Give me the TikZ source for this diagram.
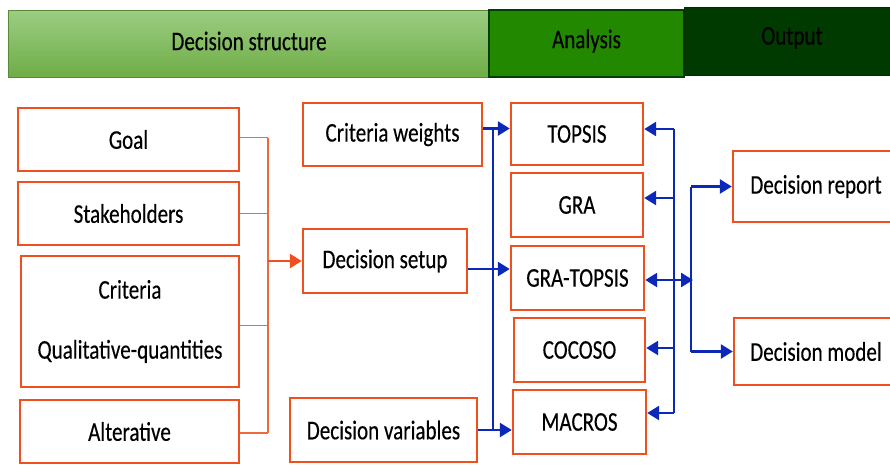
\documentclass[tikz,border=0pt]{standalone}
\usepackage{fontspec}
\setmainfont[FakeStretch=0.78,FakeBold=0.3]{Carlito}
\usetikzlibrary{arrows.meta}
\definecolor{boxorange}{RGB}{240,80,30}
\definecolor{brorange}{RGB}{240,105,60}
\definecolor{ablue}{RGB}{12,40,185}
\definecolor{lgtop}{RGB}{156,205,130}
\definecolor{lgbot}{RGB}{110,173,70}
\definecolor{anagreen}{RGB}{34,136,0}
\definecolor{outgreen}{RGB}{0,58,0}
\tikzset{
  txt/.style={font=\fontsize{27}{60}\selectfont, text=black},
  box/.style={txt, draw=boxorange, line width=2.4pt, fill=white, inner sep=0pt, align=center},
  bar/.style={txt, inner sep=0pt},
  bline/.style={draw=brorange, line width=1.2pt},
  oarr/.style={draw=boxorange, line width=2.6pt, -{Triangle[length=12pt,width=14pt]}},
  vline/.style={draw=ablue, line width=1.5pt},
  barr/.style={draw=ablue, line width=2.6pt, -{Triangle[length=12pt,width=14pt]}},
  dbarr/.style={draw=ablue, line width=2.6pt, {Triangle[length=12pt,width=14pt]}-{Triangle[length=12pt,width=14pt]}}
}
\begin{document}
\begin{tikzpicture}[x=1pt,y=-1pt]
\useasboundingbox (0,0) rectangle (890,464);
% header bars
\node[bar, minimum width=482pt, minimum height=67pt, top color=lgtop, bottom color=lgbot, draw=lgbot!80!black, line width=0.6pt] (hds) at (249,43.5) {};
\node[txt] at (249,41) {Decision structure};
\node[bar, minimum width=195pt, minimum height=67pt, fill=anagreen, draw=green!25!black, line width=1.5pt] (han) at (586.5,43.5) {};
\node[txt] at (586.5,41) {Analysis};
\node[bar, minimum width=212pt, minimum height=68pt, fill=outgreen, draw=outgreen!80!black, line width=1pt] (hout) at (790,41) {};
\node[txt] at (792,38) {Output};
% left boxes
\node[box, minimum width=221pt, minimum height=63pt] (goal) at (128.5,139.5) {Goal};
\node[box, minimum width=221pt, minimum height=63pt] (stake) at (128.5,213.5) {Stakeholders};
\node[box, minimum width=218pt, minimum height=131pt] (crit) at (130,321.5) {Criteria\\Qualitative-quantities};
\node[box, minimum width=219pt, minimum height=63pt] (alt) at (129.5,431.5) {Alterative};
% middle boxes
\node[box, minimum width=179pt, minimum height=63pt] (cw) at (392.5,134.5) {Criteria weights};
\node[box, minimum width=164pt, minimum height=64pt] (setup) at (385,261) {Decision setup};
\node[box, minimum width=187pt, minimum height=64pt] (dv) at (383.5,430) {Decision variables};
% analysis boxes
\node[box, minimum width=132pt, minimum height=62pt] (topsis) at (577,134) {TOPSIS};
\node[box, minimum width=132pt, minimum height=64pt] (gra) at (577,205) {GRA};
\node[box, minimum width=133pt, minimum height=64pt] (gt) at (577.5,278) {GRA-TOPSIS};
\node[box, minimum width=131pt, minimum height=64pt] (coco) at (579.5,350) {COCOSO};
\node[box, minimum width=133pt, minimum height=64pt] (macros) at (579.5,422) {MACROS};
% output boxes
\node[box, minimum width=166pt, minimum height=71pt] (rep) at (816,186.5) {Decision report};
\node[box, minimum width=164pt, minimum height=67pt] (model) at (816,351.5) {Decision model};
% orange bracket
\coordinate (bt) at (268,0);
\draw[bline] ([yshift=2pt]goal.east) -- ([yshift=2pt]goal.east -| bt);
\draw[bline] (stake.east) -- (stake.east -| bt);
\draw[bline] ([yshift=-4pt]crit.east) -- ([yshift=-4pt]crit.east -| bt);
\draw[bline] ([yshift=-1.5pt]alt.east) -- ([yshift=-1.5pt]alt.east -| bt);
\draw[bline] ([yshift=2pt]goal.east -| bt) -- ([yshift=-1.5pt]alt.east -| bt);
\draw[oarr] (setup.west -| bt) -- (setup.west);
% blue left distribution
\coordinate (lb) at (493,0);
\draw[vline] ([yshift=6pt]cw.east -| lb) -- (dv.east -| lb);
\draw[barr] ([yshift=6pt]cw.east) -- ([yshift=6pt]cw.east -| topsis.west);
\draw[barr] ([yshift=-8pt]setup.east) -- ([yshift=-8pt]setup.east -| gt.west);
\draw[barr] (dv.east) -- (dv.east -| macros.west);
% blue right feedback
\coordinate (rb) at (674,0);
\draw[vline] ([yshift=5pt]topsis.east -| rb) -- ([yshift=9pt]macros.east -| rb);
\draw[barr] ([yshift=5pt]topsis.east -| rb) -- ([yshift=5pt]topsis.east);
\draw[barr] ([yshift=7pt]gra.east -| rb) -- ([yshift=7pt]gra.east);
\draw[barr] ([yshift=2pt]coco.east -| rb) -- ([yshift=2pt]coco.east);
\draw[barr] ([yshift=9pt]macros.east -| rb) -- ([yshift=9pt]macros.east);
% to outputs
\coordinate (ob) at (691,0);
\draw[dbarr] ([yshift=-2pt]gt.east) -- ([yshift=-2pt,xshift=2pt]gt.east -| ob);
\draw[vline] (rep.west -| ob) -- (model.west -| ob);
\draw[barr] (rep.west -| ob) -- (rep.west);
\draw[barr] (model.west -| ob) -- (model.west);
\end{tikzpicture}
\end{document}
